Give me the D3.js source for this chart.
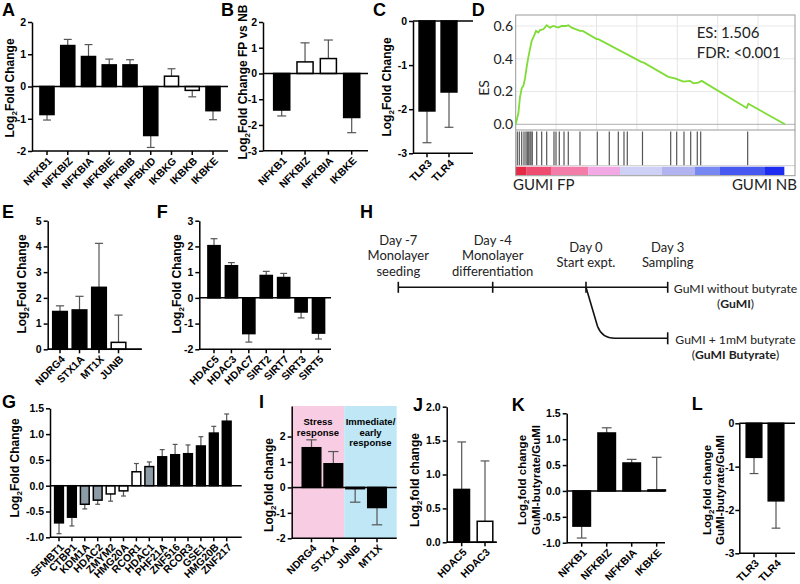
<!DOCTYPE html>
<html>
<head>
<meta charset="utf-8">
<script src="https://d3js.org/d3.v7.min.js"></script>
<style>
  body { margin: 0; background: #fff; }
  svg { display: block; font-family: "Liberation Sans", Arial, sans-serif; }
  .axis .tick text { font-size: 10.5px; font-weight: bold; fill: #000; }
  .axis path, .axis line, .axisline { stroke: #000; stroke-width: 1.5; }
  .cat { font-size: 10.5px; font-weight: bold; }
  .ylab { font-size: 12px; font-weight: bold; }
  .ylab.small { font-size: 11.5px; }
  .letter { font-size: 18px; font-weight: bold; }
  .lato { font-family: Lato, sans-serif; }
</style>
</head>
<body>
<script>
// ---------- data ----------
// significance code: 1 = black, 0 = open, 2 = grey
var aCats = ["NFKB1", "NFKBIZ", "NFKBIA", "NFKBIE", "NFKBIB", "NFBKID", "IKBKG", "IKBKB", "IKBKE"];
var aVals = [-0.87, 1.27, 0.93, 0.67, 0.67, -1.52, 0.32, -0.12, -0.75];
var aErrs = [0.17, 0.19, 0.37, 0.18, 0.16, 0.37, 0.23, 0.2, 0.28];
var aSig  = [1, 1, 1, 1, 1, 1, 0, 0, 1];

var bCats = ["NFKB1", "NFKBIZ", "NFKBIA", "IKBKE"];
var bVals = [-1.42, 0.45, 0.58, -1.71];
var bErrs = [0.23, 0.74, 0.72, 0.59];
var bSig  = [1, 0, 0, 1];

var cCats = ["TLR3", "TLR4"];
var cVals = [-2.04, -1.61];
var cErrs = [0.72, 0.8];
var cSig  = [1, 1];

var eCats = ["NDRG4", "STX1A", "MT1X", "JUNB"];
var eVals = [1.47, 1.53, 2.41, 0.27];
var eErrs = [0.22, 0.53, 1.71, 1.06];
var eSig  = [1, 1, 1, 0];

var fCats = ["HDAC5", "HDAC3", "HDAC7", "SIRT2", "SIRT7", "SIRT3", "SIRT5"];
var fVals = [2.03, 1.25, -1.39, 0.87, 0.79, -0.55, -1.37];
var fErrs = [0.27, 0.12, 0.33, 0.16, 0.16, 0.23, 0.23];
var fSig  = [1, 1, 1, 1, 1, 1, 1];

var gCats = ["SFMBT1", "CTBP1", "KDM1A", "HDAC2", "ZMYM2", "HMG20A", "RCOR1", "HDAC1",
             "PHF21A", "ZNF516", "RCOR3", "GSE1", "HMG20B", "ZNF217"];
var gVals = [-0.72, -0.61, -0.36, -0.28, -0.16, -0.1, 0.27, 0.37, 0.56, 0.6, 0.62, 0.77, 1.02, 1.25];
var gErrs = [0.21, 0.17, 0.09, 0.08, 0.14, 0.1, 0.16, 0.09, 0.14, 0.2, 0.17, 0.18, 0.13, 0.14];
var gSig  = [1, 1, 2, 2, 0, 0, 0, 2, 1, 1, 1, 1, 1, 1];

var iCats = ["NDRG4", "STX1A", "JUNB", "MT1X"];
var iVals = [1.56, 0.93, -0.05, -0.79];
var iErrs = [0.31, 0.48, 0.53, 0.68];
var iSig  = [1, 1, 1, 1];
var iGroups = ["Stress response", "Stress response", "Immediate/early response", "Immediate/early response"];

var jCats = ["HDAC5", "HDAC3"];
var jVals = [0.78, 0.31];
var jErrs = [0.7, 0.89];
var jSig  = [1, 0];

var kCats = ["NFKB1", "NFKBIZ", "NFKBIA", "IKBKE"];
var kVals = [-0.68, 1.12, 0.54, 0.02];
var kErrs = [0.23, 0.1, 0.07, 0.63];
var kSig  = [1, 1, 1, 1];

var lCats = ["TLR3", "TLR4"];
var lVals = [-0.785, -1.79];
var lErrs = [0.375, 0.63];
var lSig  = [1, 1];

// GSEA running enrichment score (rank out of 10000)
var esRank  = [0, 99, 161, 223, 285, 347, 408, 470, 532, 594, 656, 755, 842, 903, 1027, 1151, 1275,
               1398, 1584, 1708, 1869, 1955, 2079, 2389, 2488, 3007, 3069, 4678, 4740, 5668, 5916,
               6225, 6473, 6597, 6782, 6906, 8577, 8639, 10000];
var esValue = [0, 0.067, 0.168, 0.22, 0.235, 0.28, 0.35, 0.41, 0.46, 0.51, 0.53, 0.57, 0.56, 0.575,
               0.58, 0.605, 0.59, 0.6, 0.59, 0.6, 0.6, 0.605, 0.59, 0.57, 0.57, 0.52, 0.52, 0.38,
               0.378, 0.29, 0.28, 0.26, 0.265, 0.25, 0.255, 0.265, 0.1, 0.125, 0];
var hitRank = [59, 134, 223, 308, 382, 431, 483, 531, 568, 616, 780, 965, 1151, 1422, 1497, 1619,
               1794, 1953, 2387, 3030, 3475, 3810, 4021, 4144, 4708, 5755, 5978, 6249, 6498, 6743,
               6869, 8614];
var rankBandEnd = [408, 1337, 2698, 3874, 5421, 6658, 7586, 9257, 9975];
var esTicks = [0, 0.2, 0.4, 0.6];

// timeline
var tlDays = [-7, -4, 0, 3];
var tlLabels = [["Day -7", "Monolayer", "seeding"], ["Day -4", "Monolayer", "differentiation"],
                ["Day 0", "Start expt."], ["Day 3", "Sampling"]];
var tlArms = [["GuMI without butyrate", "GuMI"], ["GuMI + 1mM butyrate", "GuMI Butyrate"]];

// ---------- drawing ----------
var fillFor = {1: "#000", 0: "#fff", 2: "#8d9ba6"};
var groupFill = ["#f8cde3", "#bfe7f6"];

var svg = d3.select("body").append("svg").attr("width", 800).attr("height", 584);

function fmtInt(d) { return String(d); }
function fmtOne(d) { return d.toFixed(1); }

function yLabel(g, lines, xs, cy) {
  lines.forEach(function(t, k) {
    var txt = g.append("text").attr("class", lines.length > 1 ? "ylab small" : "ylab")
        .attr("transform", "translate(" + xs[k] + "," + cy + ") rotate(-90)")
        .attr("text-anchor", "middle").attr("dy", "0.35em");
    if (t.indexOf("Log2") === 0) {
      txt.append("tspan").text("Log");
      txt.append("tspan").attr("font-size", "8px").attr("dy", 3).text("2");
      txt.append("tspan").attr("dy", -3).text(t.slice(4));
    } else {
      txt.text(t);
    }
  });
}

function barPanel(p) {
  var g = svg.append("g");
  var y = d3.scaleLinear().domain(p.domain).range([p.yB, p.yT]);
  var n = p.cats.length;
  var step = (p.cLast - p.cFirst) / (n - 1);
  var x = d3.scaleBand().domain(p.cats)
      .range([p.cFirst - step / 2, p.cLast + step / 2])
      .paddingInner(p.pad).paddingOuter(p.pad / 2);
  var bw = x.bandwidth();
  var rows = p.cats.map(function(c, i) {
    return {c: c, v: p.vals[i], e: p.errs[i], s: p.sig[i]};
  });

  // shaded groups (panel I)
  if (p.groups) {
    var names = Array.from(new Set(p.groups));
    names.forEach(function(name, k) {
      var idx = p.groups.map(function(gname, i) { return gname === name ? i : -1; })
          .filter(function(i) { return i >= 0; });
      var first = idx[0], last = idx[idx.length - 1];
      var left = first === 0 ? p.axisX :
          (x(p.cats[first - 1]) + bw + x(p.cats[first])) / 2;
      var right = last === n - 1 ? p.xEnd :
          (x(p.cats[last]) + bw + x(p.cats[last + 1])) / 2;
      g.append("rect").attr("x", left).attr("y", p.yT)
          .attr("width", right - left).attr("height", p.yB - p.yT)
          .attr("fill", groupFill[k]);
      var words = name.replace("/", "/ ").split(" ");
      words.forEach(function(w, j) {
        g.append("text").attr("x", (left + right) / 2).attr("y", p.yT + 19 + j * 10.5)
            .attr("text-anchor", "middle").attr("font-size", "9.5px")
            .attr("font-weight", "bold").text(w);
      });
    });
  }

  // error bars (one-sided, away from zero)
  var eb = g.append("g").attr("stroke", "#555").attr("stroke-width", 1.2);
  rows.forEach(function(d) {
    var dir = d.v < 0 ? -1 : 1;
    var cx = x(d.c) + bw / 2;
    var y2 = y(d.v + dir * d.e);
    eb.append("line").attr("x1", cx).attr("x2", cx).attr("y1", y(d.v)).attr("y2", y2);
    eb.append("line").attr("x1", cx - bw * 0.28).attr("x2", cx + bw * 0.28)
        .attr("y1", y2).attr("y2", y2);
  });

  g.selectAll("rect.bar").data(rows).join("rect").attr("class", "bar")
      .attr("x", function(d) { return x(d.c); })
      .attr("width", bw)
      .attr("y", function(d) { return y(Math.max(0, d.v)); })
      .attr("height", function(d) { return Math.abs(y(d.v) - y(0)); })
      .attr("fill", function(d) { return fillFor[d.s]; })
      .attr("stroke", "#000").attr("stroke-width", 1.5);

  // y axis
  g.append("g").attr("class", "axis")
      .attr("transform", "translate(" + p.axisX + ",0)")
      .call(d3.axisLeft(y).tickValues(p.ticks).tickSize(4).tickSizeOuter(0)
          .tickPadding(p.tickPad === undefined ? 2 : p.tickPad).tickFormat(p.fmt || fmtInt));

  // bottom axis with category ticks
  var xa = g.append("g").attr("class", "axis")
      .attr("transform", "translate(0," + p.yB + ")")
      .call(d3.axisBottom(x).tickSize(4).tickFormat(""));
  xa.select(".domain").remove();
  g.append("line").attr("class", "axisline")
      .attr("x1", p.axisX).attr("x2", p.xEnd).attr("y1", p.yB).attr("y2", p.yB);

  // zero line
  g.append("line").attr("class", "axisline")
      .attr("x1", p.axisX).attr("x2", p.xEnd).attr("y1", y(0)).attr("y2", y(0));

  g.selectAll("text.cat").data(p.cats).join("text").attr("class", "cat")
      .attr("transform", function(c) {
        return "translate(" + (x(c) + bw / 2 + 3) + "," + (p.yB + 8) + ") rotate(-45)";
      })
      .attr("text-anchor", "end").attr("dy", "0.35em")
      .text(function(c) { return c; });

  yLabel(g, p.label, p.labelX, p.labelY);
  g.append("text").attr("class", "letter").attr("x", p.letterX).attr("y", p.letterY).text(p.letter);
}

var ticksInt = function(a, b) { return d3.range(a, b + 1); };

barPanel({letter: "A", letterX: 2, letterY: 16, cats: aCats, vals: aVals, errs: aErrs, sig: aSig,
  axisX: 32, xEnd: 228, yT: 22, yB: 151, domain: [-2, 2], ticks: ticksInt(-2, 2),
  cFirst: 47, cLast: 213, pad: 0.32, label: ["Log2Fold Change"], labelX: [10], labelY: 88});

barPanel({letter: "B", letterX: 221, letterY: 16, cats: bCats, vals: bVals, errs: bErrs, sig: bSig,
  axisX: 263, xEnd: 368, yT: 22, yB: 150.7, domain: [-3, 2], ticks: ticksInt(-3, 2),
  cFirst: 281.7, cLast: 351.7, pad: 0.31, label: ["Log2Fold Change FP vs NB"], labelX: [242.5], labelY: 82});

barPanel({letter: "C", letterX: 373, letterY: 16, cats: cCats, vals: cVals, errs: cErrs, sig: cSig,
  axisX: 413, xEnd: 473, yT: 21, yB: 153.3, domain: [-3, 0], ticks: ticksInt(-3, 0),
  cFirst: 427, cLast: 449, pad: 0.28, label: ["Log2Fold Change"], labelX: [386.7], labelY: 87});

barPanel({letter: "E", letterX: 2, letterY: 218, cats: eCats, vals: eVals, errs: eErrs, sig: eSig,
  axisX: 47.7, xEnd: 141.7, yT: 220.7, yB: 349.3, domain: [0, 5], ticks: ticksInt(0, 5),
  cFirst: 60, cLast: 118.5, pad: 0.25, label: ["Log2Fold Change"], labelX: [21.7], labelY: 284});

barPanel({letter: "F", letterX: 156.7, letterY: 218, cats: fCats, vals: fVals, errs: fErrs, sig: fSig,
  axisX: 199.3, xEnd: 331, yT: 220.7, yB: 349.3, domain: [-2, 3], ticks: ticksInt(-2, 3),
  cFirst: 214, cLast: 318.5, pad: 0.3, label: ["Log2Fold Change"], labelX: [176.7], labelY: 284});

barPanel({letter: "G", letterX: 2, letterY: 408, cats: gCats, vals: gVals, errs: gErrs, sig: gSig,
  axisX: 50, xEnd: 241.7, yT: 408.3, yB: 537.3, domain: [-1, 1.5], ticks: [-1, -0.5, 0, 0.5, 1, 1.5],
  fmt: fmtOne, cFirst: 59, cLast: 226.7, pad: 0.32, label: ["Log2Fold Change"], labelX: [15], labelY: 468});

barPanel({letter: "I", letterX: 259, letterY: 408, cats: iCats, vals: iVals, errs: iErrs, sig: iSig,
  groups: iGroups,
  axisX: 291.7, xEnd: 396.7, yT: 406, yB: 538.3, domain: [-2, 3.2], ticks: ticksInt(-2, 2),
  cFirst: 311.5, cLast: 377, pad: 0.15, label: ["Log2fold change"], labelX: [269], labelY: 485});

barPanel({letter: "J", letterX: 413, letterY: 411, cats: jCats, vals: jVals, errs: jErrs, sig: jSig,
  axisX: 446.7, xEnd: 496.7, yT: 406.7, yB: 542.3, domain: [0, 2], ticks: [0, 0.5, 1, 1.5, 2],
  fmt: fmtOne, cFirst: 461.7, cLast: 485, pad: 0.33, label: ["Log2fold change"], labelX: [415], labelY: 480});

barPanel({letter: "K", letterX: 511.7, letterY: 411, cats: kCats, vals: kVals, errs: kErrs, sig: kSig,
  axisX: 566.7, xEnd: 665, yT: 413.3, yB: 542.7, domain: [-1, 1.5], ticks: [-1, -0.5, 0, 0.5, 1, 1.5],
  fmt: fmtOne, cFirst: 581.7, cLast: 656.7, pad: 0.3,
  label: ["Log2fold change", "GuMI-butyrate/GuMI"], labelX: [522, 536], labelY: 480});

barPanel({letter: "L", letterX: 691.7, letterY: 410, cats: lCats, vals: lVals, errs: lErrs, sig: lSig,
  axisX: 739.3, xEnd: 795, yT: 423.3, yB: 553.3, domain: [-3, 0], ticks: ticksInt(-3, 0),
  cFirst: 754, cLast: 776, pad: 0.29, tickPad: 1,
  label: ["Log2fold change", "GuMI-butyrate/GuMI"], labelX: [707, 720], labelY: 490});

// ---------- D: GSEA ----------
(function() {
  var g = svg.append("g").attr("class", "lato");
  var fL = 515.7, fR = 795, fT = 15, sep = 130, rugB = 165.7, fB = 175.7;
  var x = d3.scaleLinear().domain([0, 10000]).range([515.7, 785]);
  var y = d3.scaleLinear().domain([0, 0.6]).range([124.3, 26]);

  // grid
  [1500, 3000, 4500, 6000, 7500, 9000].forEach(function(r) {
    g.append("line").attr("x1", x(r)).attr("x2", x(r)).attr("y1", fT).attr("y2", sep)
        .attr("stroke", "#e4e4e4");
  });
  esTicks.slice(1).forEach(function(t) {
    g.append("line").attr("x1", fL).attr("x2", fR).attr("y1", y(t)).attr("y2", y(t))
        .attr("stroke", "#e8e8e8");
  });
  g.append("line").attr("x1", fL).attr("x2", fR).attr("y1", y(0)).attr("y2", y(0))
      .attr("stroke", "#b0b0b0");

  // hits
  g.selectAll("line.hit").data(hitRank).join("line").attr("class", "hit")
      .attr("x1", function(r) { return x(r); }).attr("x2", function(r) { return x(r); })
      .attr("y1", sep + 1.5).attr("y2", rugB)
      .attr("stroke", "#555").attr("stroke-width", 1.2);

  // colour bar
  var bandColors = ["#e42a44", "#ef4c72", "#f47ca8", "#f3a8e6", "#cfd0f5", "#b2b3f1",
                    "#7888f2", "#4658f0", "#1e2cf2"];
  rankBandEnd.forEach(function(end, i) {
    var start = i === 0 ? 0 : rankBandEnd[i - 1];
    g.append("rect").attr("x", x(start)).attr("width", x(end) - x(start))
        .attr("y", 166.7).attr("height", 8.3).attr("fill", bandColors[i]);
  });

  g.append("line").attr("x1", fL).attr("x2", fR).attr("y1", sep).attr("y2", sep).attr("stroke", "#999");
  g.append("line").attr("x1", fL).attr("x2", fR).attr("y1", rugB).attr("y2", rugB).attr("stroke", "#ccc");
  g.append("rect").attr("x", fL).attr("y", fT).attr("width", fR - fL).attr("height", fB - fT)
      .attr("fill", "none").attr("stroke", "#999");

  // ES curve
  var line = d3.line().x(function(d) { return x(d[0]); }).y(function(d) { return y(d[1]); });
  g.append("path").datum(d3.zip(esRank, esValue)).attr("d", line)
      .attr("fill", "none").attr("stroke", "#7fdc36").attr("stroke-width", 1.8);

  g.selectAll("text.est").data(esTicks).join("text").attr("class", "est")
      .attr("x", 513).attr("y", function(t) { return y(t); }).attr("dy", "0.35em")
      .attr("text-anchor", "end").attr("font-size", "14px").attr("fill", "#222")
      .text(function(t) { return t.toFixed(1); });
  g.append("text").attr("transform", "translate(489,88) rotate(-90)").attr("text-anchor", "middle")
      .attr("font-size", "14px").attr("fill", "#222").text("ES");

  g.append("text").attr("x", 696.7).attr("y", 37.7).attr("font-size", "15px").attr("fill", "#222").text("ES: 1.506");
  g.append("text").attr("x", 696.7).attr("y", 58).attr("font-size", "15px").attr("fill", "#222").text("FDR: <0.001");
  g.append("text").attr("x", 513).attr("y", 190).attr("font-size", "15px").attr("fill", "#222").text("GUMI FP");
  g.append("text").attr("x", 797).attr("y", 190).attr("text-anchor", "end").attr("font-size", "15px")
      .attr("fill", "#222").text("GUMI NB");

  svg.append("text").attr("class", "letter").attr("x", 471.7).attr("y", 16).text("D");
})();

// ---------- H: timeline ----------
(function() {
  var g = svg.append("g").attr("class", "lato");
  var day = d3.scaleLinear().domain(tlDays).range([398.3, 492.7, 586, 667.7]);
  var yMain = 287.3, yArm = 338.3;
  var st = {stroke: "#111", "stroke-width": 1.6, fill: "none"};
  function ln(x1, y1, x2, y2) {
    var l = g.append("line").attr("x1", x1).attr("y1", y1).attr("x2", x2).attr("y2", y2);
    Object.keys(st).forEach(function(k) { l.attr(k, st[k]); });
  }
  ln(day(-7), yMain, day(3), yMain);
  tlDays.forEach(function(d) { ln(day(d), yMain - 5.5, day(d), yMain + 5.5); });
  ln(day(3), yArm - 6, day(3), yArm + 6);
  var p = d3.path();
  p.moveTo(day(0), yMain);
  p.lineTo(day(0) + 11.5, yArm - 12);
  p.quadraticCurveTo(day(0) + 16, yArm, day(0) + 29, yArm);
  p.lineTo(day(3), yArm);
  var arm = g.append("path").attr("d", p.toString());
  Object.keys(st).forEach(function(k) { arm.attr(k, st[k]); });

  tlLabels.forEach(function(lines, i) {
    var top = lines.length === 3 ? 240 : 247.5;
    var gap = lines.length === 3 ? 15.5 : 15;
    lines.forEach(function(t, j) {
      g.append("text").attr("x", day(tlDays[i])).attr("y", top + j * gap).attr("dy", "0.35em")
          .attr("text-anchor", "middle").attr("font-size", "13px").attr("fill", "#222").text(t);
    });
  });

  [yMain, yArm].forEach(function(yy, i) {
    g.append("text").attr("x", 735.5).attr("y", yy + 1).attr("dy", "0.35em").attr("text-anchor", "middle")
        .attr("font-size", "12.2px").attr("fill", "#222").text(tlArms[i][0]);
    var t2 = g.append("text").attr("x", 735.5).attr("y", yy + 16.3).attr("dy", "0.35em")
        .attr("text-anchor", "middle").attr("font-size", "12.2px").attr("fill", "#222");
    t2.append("tspan").text("(");
    t2.append("tspan").attr("font-weight", "bold").text(tlArms[i][1]);
    t2.append("tspan").text(")");
  });

  svg.append("text").attr("class", "letter").attr("x", 360).attr("y", 218).text("H");
})();
</script>
</body>
</html>
